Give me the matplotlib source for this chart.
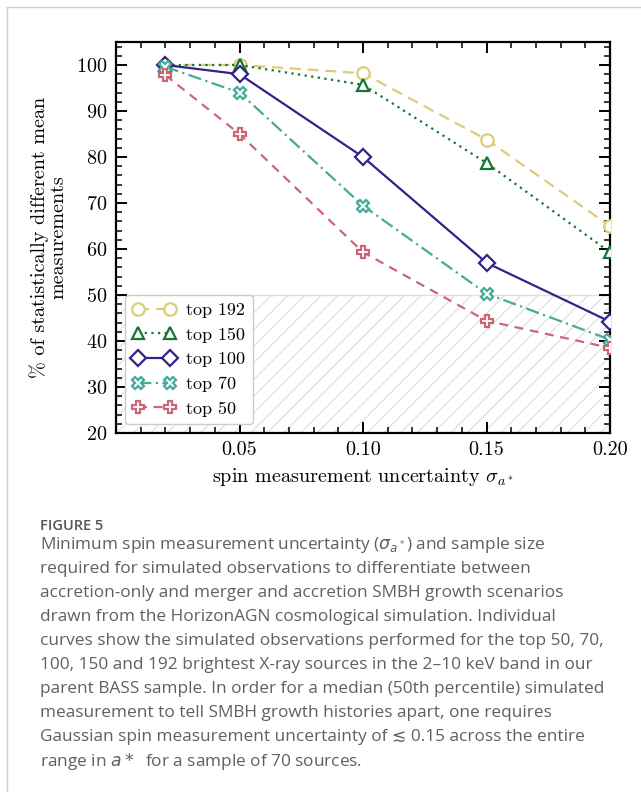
import matplotlib
matplotlib.use("Agg")
import matplotlib.pyplot as plt
from matplotlib.lines import Line2D

# spin measurement uncertainty
sigma = [0.02, 0.05, 0.10, 0.15, 0.20]

# % of statistically different mean measurements
top192 = [100, 100, 98.2, 83.8, 65.0]
top150 = [100, 100, 95.7, 78.7, 59.3]
top100 = [100, 98.0, 80.0, 57.0, 44.2]
top70 = [99.6, 94.0, 69.4, 50.3, 40.3]
top50 = [97.8, 85.0, 59.3, 44.4, 38.5]

labels = ["top 192", "top 150", "top 100", "top 70", "top 50"]

caption_lines = [
    r"Minimum spin measurement uncertainty ($\sigma_{a^*}$) and sample size",
    "required for simulated observations to differentiate between",
    "accretion-only and merger and accretion SMBH growth scenarios",
    "drawn from the HorizonAGN cosmological simulation. Individual",
    "curves show the simulated observations performed for the top 50, 70,",
    "100, 150 and 192 brightest X-ray sources in the 2\u201310 keV band in our",
    "parent BASS sample. In order for a median (50th percentile) simulated",
    "measurement to tell SMBH growth histories apart, one requires",
    "Gaussian spin measurement uncertainty of \u2272 0.15 across the entire",
    r"range in $a*$  for a sample of 70 sources.",
]

plt.rcParams["font.family"] = "serif"
plt.rcParams["font.serif"] = ["cmr10"]
plt.rcParams["mathtext.fontset"] = "cm"
plt.rcParams["axes.formatter.use_mathtext"] = True
plt.rcParams["axes.unicode_minus"] = False
plt.rcParams["hatch.linewidth"] = 0.8


def main():
    fig = plt.figure(figsize=(6.41, 7.92), dpi=100)
    ax = fig.add_axes([116 / 641, 1 - 433 / 792, 494 / 641, 391 / 792])

    # shaded region below 50 %
    ax.axhspan(20, 50, facecolor="none", edgecolor="#dedede", hatch="//",
               linewidth=1.0, zorder=0)

    styles = [
        (top192, "#DDCC77", "o", (0, (5, 3)), 9),
        (top150, "#117733", "^", (0, (1, 2)), 9),
        (top100, "#332288", "D", "-", 8),
        (top70, "#44AA99", "X", (0, (6, 2, 1, 2)), 9),
        (top50, "#CC6677", "P", (0, (4, 3)), 9),
    ]
    for (vals, col, mk, ls, ms), lab in zip(styles, labels):
        ax.plot(sigma, vals, color=col, linestyle=ls, linewidth=1.6,
                marker=mk, markersize=ms, markerfacecolor="white",
                markeredgecolor=col, markeredgewidth=1.6, label=lab,
                zorder=3)

    ax.set_xlim(0, 0.2)
    ax.set_ylim(20, 105)
    ax.set_xticks([0.05, 0.10, 0.15, 0.20])
    ax.set_xticklabels(["0.05", "0.10", "0.15", "0.20"])
    ax.set_xticks([i / 100 for i in range(1, 20)], minor=True)
    ax.set_yticks(range(20, 101, 10))
    ax.set_yticks(range(20, 105, 2), minor=True)

    ax.tick_params(which="both", direction="in", top=True, right=True,
                   labelsize=14.5, colors="black")
    ax.tick_params(which="major", length=8, width=1.4, pad=6)
    ax.tick_params(which="minor", length=4.5, width=1.1)
    for s in ax.spines.values():
        s.set_linewidth(1.6)

    ax.set_xlabel(r"spin measurement uncertainty $\sigma_{a^*}$", fontsize=14.5,
                  labelpad=5)
    ax.set_ylabel("% of statistically different mean\nmeasurements",
                  fontsize=14.5, labelpad=6, linespacing=1.1)

    leg = ax.legend(loc="lower left", numpoints=2, fontsize=13,
                    handlelength=2.4, labelspacing=0.5, borderpad=0.4,
                    handletextpad=0.6, borderaxespad=0.5, fancybox=True,
                    framealpha=1.0, edgecolor="#cccccc")
    leg.set_zorder(5)

    # caption
    cap_font = ["Open Sans", "DejaVu Sans"]
    fig.text(40 / 641, 1 - 526 / 792, "FIGURE 5", family=cap_font,
             fontsize=10.5, weight="semibold", color="#555555", va="center")
    for i, line in enumerate(caption_lines):
        fig.text(40 / 641, 1 - (545 + 24 * i) / 792, line, family=cap_font,
                 fontsize=12.4, color="#606060", va="center",
                 math_fontfamily="dejavusans")

    # page frame
    fig.add_artist(Line2D([7 / 641, 1], [1 - 7 / 792, 1 - 7 / 792],
                          transform=fig.transFigure, color="#cfcfcf", lw=1))
    fig.add_artist(Line2D([7 / 641, 7 / 641], [0, 1 - 7 / 792],
                          transform=fig.transFigure, color="#cfcfcf", lw=1))

    fig.savefig("out.png", dpi=100)


if __name__ == "__main__":
    main()
